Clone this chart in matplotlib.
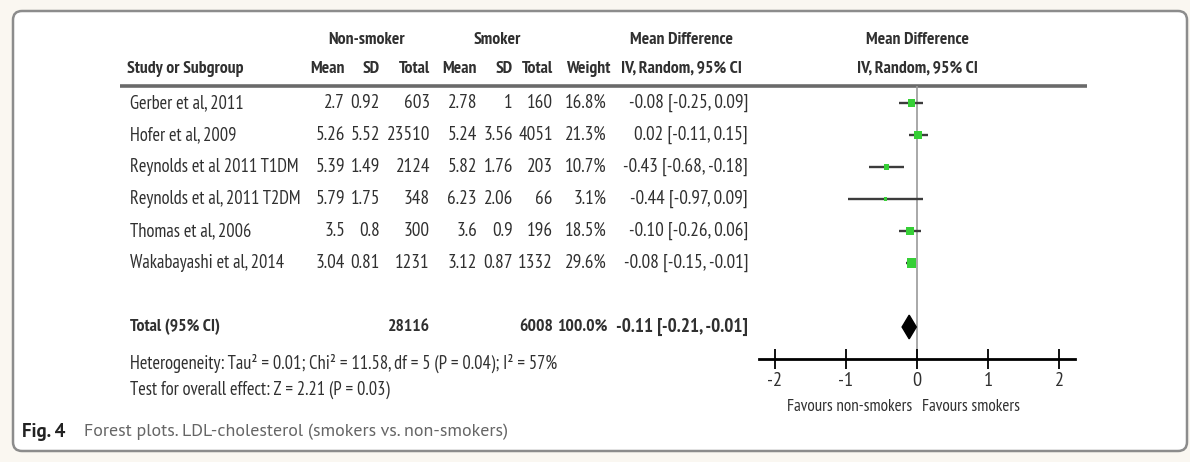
import numpy as np
import matplotlib
matplotlib.use("Agg")
import matplotlib.pyplot as plt
from matplotlib import font_manager
from matplotlib.patches import FancyBboxPatch

# study rows
studies = ["Gerber et al, 2011", "Hofer et al, 2009", "Reynolds et al 2011 T1DM",
           "Reynolds et al, 2011 T2DM", "Thomas et al, 2006", "Wakabayashi et al, 2014"]
ns_mean = [2.7, 5.26, 5.39, 5.79, 3.5, 3.04]
ns_sd = [0.92, 5.52, 1.49, 1.75, 0.8, 0.81]
ns_total = [603, 23510, 2124, 348, 300, 1231]
s_mean = [2.78, 5.24, 5.82, 6.23, 3.6, 3.12]
s_sd = [1, 3.56, 1.76, 2.06, 0.9, 0.87]
s_total = [160, 4051, 203, 66, 196, 1332]
weight = [16.8, 21.3, 10.7, 3.1, 18.5, 29.6]
md = [-0.08, 0.02, -0.43, -0.44, -0.10, -0.08]
ci_lo = [-0.25, -0.11, -0.68, -0.97, -0.26, -0.15]
ci_hi = [0.09, 0.15, -0.18, 0.09, 0.06, -0.01]

# pooled estimate
total_ns = 28116
total_s = 6008
total_weight = 100.0
pooled_md = -0.11
pooled_lo = -0.21
pooled_hi = -0.01

ticks = [-2, -1, 0, 1, 2]
tick_labels = ["-2", "-1", "0", "1", "2"]

heterogeneity = "Heterogeneity: Tau² = 0.01; Chi² = 11.58, df = 5 (P = 0.04); I² = 57%"
overall = "Test for overall effect: Z = 2.21 (P = 0.03)"
fig_label = "Fig. 4"
caption = "Forest plots. LDL-cholesterol (smokers vs. non-smokers)"

installed = {f.name for f in font_manager.fontManager.ttflist}


def pick(names):
    for n in names:
        if n in installed:
            return n
    return None


narrow = pick(["PT Sans Narrow", "Fira Sans Condensed", "Roboto Condensed",
               "Asap Condensed", "Archivo Narrow", "Liberation Sans Narrow"])
TFONT = dict(family=narrow) if narrow else dict(family="DejaVu Sans", stretch="condensed")
CFONT = pick(["PT Sans", "Open Sans", "Noto Sans"]) or "DejaVu Sans"

TXT = "#303030"

W, H = 1190, 462
fig = plt.figure(figsize=(W / 100, H / 100), dpi=100)
fig.patch.set_facecolor("#faf7f1")
renderer = fig.canvas.get_renderer()

# pixel canvas for the table, card and caption
canvas = fig.add_axes([0, 0, 1, 1])
canvas.set_xlim(0, W)
canvas.set_ylim(H, 0)
canvas.axis("off")


def fit(s, width_px, **kw):
    """font size that gives string s the wanted width in pixels"""
    probe = canvas.text(0, 0, s, fontsize=10, **kw)
    w = probe.get_window_extent(renderer).width
    probe.remove()
    return 10 * width_px / w


fs_txt = fit("Reynolds et al, 2011 T2DM", 172, **TFONT)
fs_num = fit("-0.08 [-0.25, 0.09]", 119, **TFONT)
fs_head = fs_txt * 0.95
fs_fav = fit("Favours non-smokers", 125, **TFONT)
fs_cap = fit(caption, 426, family=CFONT)

card = FancyBboxPatch((13, 11), 1174, 440, boxstyle="round,pad=0,rounding_size=9",
                      facecolor="white", edgecolor="#8c8c8c", linewidth=1.8, zorder=0)
canvas.add_patch(card)

row0, row_step = 103, 32
row_y = [row0 + row_step * i for i in range(len(studies))]
total_y = row0 + row_step * 7


def t(x, y, s, size, ha="left", bold=False, color=TXT):
    canvas.text(x, y, s, ha=ha, va="center", fontsize=size, color=color,
                fontweight="bold" if bold else "normal", **TFONT)


# header
t(367, 40, "Non-smoker", fs_head, ha="center", bold=True)
t(497, 40, "Smoker", fs_head, ha="center", bold=True)
t(681, 40, "Mean Difference", fs_head, ha="center", bold=True)
t(917, 40, "Mean Difference", fs_head, ha="center", bold=True)
t(127, 69, "Study or Subgroup", fs_head, bold=True)
col_x = [345, 380, 430, 477, 513, 553]
for x, lab in zip(col_x, ["Mean", "SD", "Total", "Mean", "SD", "Total"]):
    t(x, 69, lab, fs_head, ha="right", bold=True)
t(610, 69, "Weight", fs_head, ha="right", bold=True)
t(681, 69, "IV, Random, 95% CI", fs_head, ha="center", bold=True)
t(917, 69, "IV, Random, 95% CI", fs_head, ha="center", bold=True)
canvas.plot([120, 1087], [86, 86], color="#6a6a6a", lw=2.6, solid_capstyle="butt", zorder=2)

# study rows
for i, y in enumerate(row_y):
    t(130, y, studies[i], fs_txt)
    vals = [f"{ns_mean[i]:g}", f"{ns_sd[i]:g}", f"{ns_total[i]}",
            f"{s_mean[i]:g}", f"{s_sd[i]:g}", f"{s_total[i]}"]
    for x, v in zip(col_x, vals):
        t(x, y, v, fs_num, ha="right")
    t(607, y, f"{weight[i]:.1f}%", fs_num, ha="right")
    t(748, y, f"{md[i]:.2f} [{ci_lo[i]:.2f}, {ci_hi[i]:.2f}]", fs_num, ha="right")

# total row
t(130, total_y, "Total (95% CI)", fs_head, bold=True)
t(430, total_y, f"{total_ns}", fs_head, ha="right", bold=True)
t(553, total_y, f"{total_s}", fs_head, ha="right", bold=True)
t(607, total_y, f"{total_weight:.1f}%", fs_head, ha="right", bold=True)
t(748, total_y, f"{pooled_md:.2f} [{pooled_lo:.2f}, {pooled_hi:.2f}]", fs_num,
  ha="right", bold=True)

t(130, 363, heterogeneity, fs_txt)
t(130, 390, overall, fs_txt)

canvas.text(22, 432, fig_label, ha="left", va="center", fontsize=fs_cap * 1.05,
            fontweight="bold", color="#222222", family=CFONT)
canvas.text(84, 432, caption, ha="left", va="center", fontsize=fs_cap, color="#666666",
            family=CFONT)

# forest panel: 0 at x=917 px, 71 px per unit; rows 32 px apart
unit = 71.0
x0_px = 917
xl, xr = -2.5, 2.55
top_px, bot_px = 86, 359
ax = fig.add_axes([(x0_px + xl * unit) / W, 1 - bot_px / H,
                   (xr - xl) * unit / W, (bot_px - top_px) / H])
ax.set_xlim(xl, xr)
ax.set_ylim(8, -(row0 - top_px) / row_step)
ax.patch.set_visible(False)
for side in ["top", "right", "left"]:
    ax.spines[side].set_visible(False)
ax.spines["bottom"].set_linewidth(2.0)
ax.spines["bottom"].set_bounds(-2.23, 2.23)
ax.set_yticks([])
ax.set_xticks(ticks)
ax.set_xticklabels(tick_labels, fontsize=fs_num * 1.05, color=TXT, **TFONT)
ax.tick_params(axis="x", direction="inout", length=15, width=1.3, pad=2,
               colors="black", labelcolor=TXT)

ax.axvline(0, color="#9a9a9a", lw=1.2, zorder=1)

rows = np.arange(len(studies))
ax.hlines(rows, ci_lo, ci_hi, color="#3c3c3c", lw=1.7, zorder=2)
ax.scatter(md, rows, marker="s", s=np.array(weight) * 1.6, color="#36cf36",
           edgecolors="none", zorder=3)

dh = 0.37
ax.fill([pooled_lo, pooled_md, pooled_hi, pooled_md],
        [7, 7 - dh, 7, 7 + dh], color="black", zorder=3)

canvas.text(912, 407, "Favours non-smokers", ha="right", va="center", fontsize=fs_fav,
            color=TXT, **TFONT)
canvas.text(922, 407, "Favours smokers", ha="left", va="center", fontsize=fs_fav,
            color=TXT, **TFONT)

fig.savefig("out.png", dpi=100, facecolor=fig.get_facecolor())
